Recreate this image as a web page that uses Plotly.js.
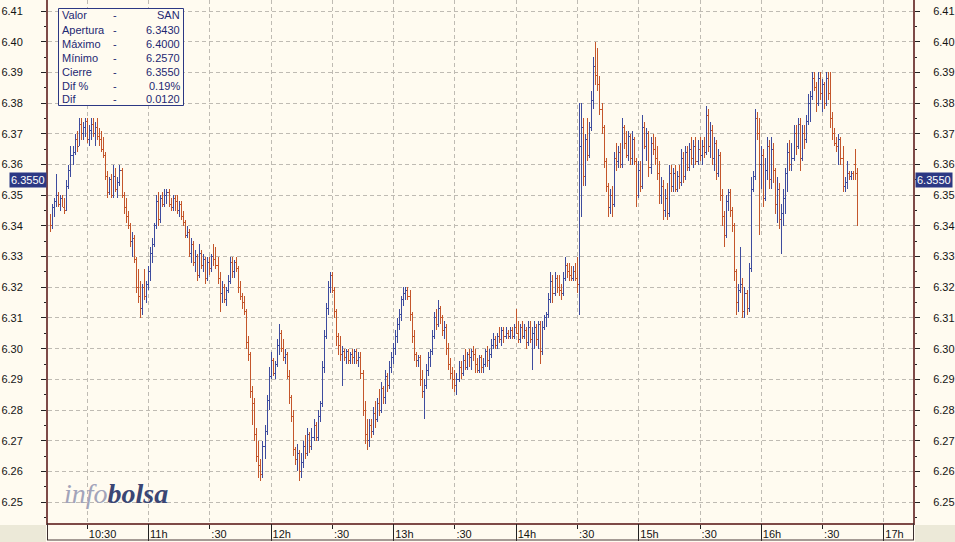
<!DOCTYPE html>
<html><head><meta charset="utf-8">
<script src="https://cdn.plot.ly/plotly-3.0.1.min.js"></script>
<style>html,body{margin:0;padding:0;background:#FFFBF0;overflow:hidden}#chart{width:955px;height:542px}
.ohlc path{shape-rendering:crispEdges}</style>
</head><body><div id="chart"></div>
<script>
// ---------- DATA ----------
const symbol = 'SAN';
const firstBarMinute = 612; // 10:12, one bar per minute
const open = [
6.343,6.340,6.346,6.348,6.350,6.347,6.349,6.346,6.345,6.353,
6.358,6.363,6.364,6.368,6.366,6.373,6.370,6.372,6.374,6.368,
6.371,6.373,6.370,6.372,6.369,6.368,6.366,6.363,6.356,6.351,
6.355,6.350,6.356,6.352,6.354,6.358,6.350,6.346,6.343,6.340,
6.335,6.336,6.329,6.320,6.317,6.313,6.320,6.317,6.321,6.325,
6.331,6.334,6.340,6.348,6.342,6.349,6.347,6.350,6.351,6.347,
6.346,6.349,6.348,6.345,6.347,6.343,6.341,6.337,6.338,6.331,
6.334,6.328,6.330,6.324,6.331,6.327,6.329,6.323,6.328,6.326,
6.330,6.329,6.327,6.323,6.318,6.320,6.316,6.319,6.322,6.328,
6.325,6.328,6.326,6.320,6.317,6.315,6.312,6.302,6.298,6.286,
6.282,6.272,6.265,6.262,6.259,6.268,6.273,6.283,6.291,6.296,
6.292,6.295,6.301,6.305,6.300,6.297,6.298,6.291,6.284,6.278,
6.267,6.264,6.266,6.260,6.263,6.268,6.266,6.272,6.268,6.271,
6.275,6.271,6.278,6.282,6.294,6.304,6.313,6.320,6.324,6.319,
6.312,6.304,6.301,6.298,6.299,6.297,6.299,6.296,6.298,6.297,
6.299,6.296,6.297,6.292,6.280,6.272,6.270,6.275,6.273,6.279,
6.277,6.282,6.280,6.287,6.284,6.291,6.288,6.294,6.297,6.300,
6.304,6.308,6.311,6.316,6.318,6.319,6.317,6.311,6.304,6.298,
6.296,6.297,6.290,6.286,6.288,6.293,6.297,6.299,6.304,6.310,
6.308,6.313,6.310,6.306,6.307,6.300,6.295,6.292,6.290,6.288,
6.290,6.294,6.292,6.296,6.294,6.298,6.297,6.299,6.298,6.295,
6.293,6.297,6.294,6.295,6.299,6.296,6.298,6.301,6.303,6.301,
6.304,6.303,6.306,6.304,6.305,6.304,6.306,6.304,6.307,6.305,
6.303,6.307,6.304,6.306,6.302,6.307,6.303,6.305,6.307,6.303,
6.308,6.299,6.307,6.310,6.311,6.316,6.322,6.318,6.323,6.320,
6.319,6.318,6.323,6.327,6.325,6.324,6.323,6.325,6.323,6.321,
6.366,6.372,6.356,6.368,6.363,6.372,6.381,6.392,6.389,6.386,
6.378,6.372,6.361,6.353,6.346,6.350,6.347,6.362,6.361,6.364,
6.360,6.372,6.367,6.363,6.369,6.362,6.368,6.361,6.350,6.358,
6.353,6.372,6.366,6.370,6.359,6.367,6.365,6.362,6.357,6.350,
6.353,6.345,6.349,6.344,6.357,6.353,6.357,6.352,6.356,6.354,
6.362,6.356,6.364,6.359,6.365,6.362,6.366,6.361,6.365,6.363,
6.366,6.364,6.376,6.366,6.371,6.362,6.367,6.357,6.363,6.350,
6.343,6.337,6.348,6.351,6.345,6.340,6.325,6.315,6.319,6.321,
6.312,6.318,6.313,6.326,6.352,6.356,6.375,6.370,6.360,6.363,
6.349,6.358,6.366,6.355,6.365,6.358,6.347,6.352,6.338,6.344,
6.349,6.357,6.364,6.360,6.362,6.370,6.366,6.373,6.362,6.370,
6.368,6.374,6.380,6.382,6.388,6.385,6.380,6.388,6.383,6.386,
6.380,6.388,6.383,6.375,6.370,6.367,6.366,6.368,6.362,6.353,
6.354,6.357,6.356,6.357,6.360,6.357];
const high = [
6.344,6.347,6.349,6.357,6.351,6.350,6.350,6.349,6.355,6.360,
6.366,6.366,6.370,6.371,6.375,6.375,6.374,6.375,6.375,6.373,
6.375,6.375,6.374,6.375,6.372,6.371,6.369,6.364,6.358,6.356,
6.357,6.360,6.359,6.356,6.360,6.359,6.351,6.349,6.345,6.341,
6.338,6.337,6.330,6.326,6.322,6.321,6.326,6.322,6.327,6.333,
6.336,6.341,6.350,6.351,6.350,6.351,6.352,6.352,6.352,6.349,
6.350,6.350,6.350,6.348,6.348,6.345,6.342,6.340,6.339,6.336,
6.335,6.332,6.331,6.334,6.332,6.331,6.330,6.330,6.330,6.331,
6.334,6.333,6.330,6.325,6.322,6.321,6.320,6.324,6.330,6.330,
6.329,6.330,6.327,6.322,6.318,6.317,6.313,6.304,6.299,6.288,
6.284,6.274,6.270,6.264,6.270,6.275,6.285,6.294,6.299,6.297,
6.296,6.303,6.308,6.306,6.303,6.300,6.299,6.293,6.285,6.280,
6.268,6.269,6.267,6.266,6.270,6.272,6.274,6.273,6.274,6.277,
6.276,6.280,6.283,6.296,6.306,6.315,6.322,6.325,6.325,6.320,
6.313,6.305,6.304,6.301,6.300,6.300,6.300,6.299,6.300,6.300,
6.300,6.299,6.299,6.293,6.283,6.277,6.277,6.277,6.281,6.283,
6.284,6.287,6.289,6.288,6.293,6.292,6.296,6.299,6.302,6.306,
6.310,6.313,6.317,6.320,6.320,6.320,6.319,6.312,6.306,6.299,
6.298,6.298,6.293,6.290,6.295,6.299,6.300,6.306,6.312,6.313,
6.316,6.314,6.311,6.309,6.308,6.302,6.297,6.294,6.293,6.292,
6.296,6.296,6.298,6.300,6.299,6.300,6.300,6.301,6.300,6.297,
6.298,6.298,6.297,6.300,6.301,6.300,6.303,6.305,6.304,6.305,
6.307,6.307,6.307,6.307,6.306,6.307,6.307,6.308,6.313,6.309,
6.308,6.309,6.308,6.307,6.309,6.309,6.307,6.309,6.308,6.309,
6.309,6.309,6.311,6.312,6.318,6.325,6.324,6.325,6.324,6.324,
6.321,6.325,6.330,6.328,6.328,6.327,6.327,6.328,6.330,6.380,
6.380,6.375,6.370,6.375,6.374,6.384,6.395,6.400,6.398,6.389,
6.380,6.373,6.362,6.354,6.352,6.353,6.364,6.367,6.366,6.367,
6.375,6.373,6.371,6.371,6.370,6.371,6.369,6.362,6.361,6.361,
6.376,6.374,6.372,6.371,6.369,6.370,6.369,6.366,6.361,6.356,
6.355,6.352,6.354,6.360,6.360,6.359,6.360,6.358,6.360,6.365,
6.364,6.366,6.366,6.367,6.369,6.368,6.369,6.368,6.369,6.368,
6.369,6.379,6.378,6.374,6.373,6.369,6.368,6.365,6.364,6.352,
6.345,6.350,6.352,6.352,6.346,6.341,6.326,6.321,6.333,6.323,
6.320,6.319,6.328,6.356,6.358,6.378,6.377,6.375,6.366,6.365,
6.362,6.369,6.368,6.369,6.367,6.359,6.356,6.354,6.347,6.352,
6.359,6.367,6.368,6.367,6.373,6.373,6.375,6.375,6.373,6.373,
6.376,6.383,6.384,6.390,6.390,6.387,6.390,6.390,6.388,6.387,
6.390,6.390,6.390,6.377,6.372,6.369,6.370,6.369,6.366,6.356,
6.361,6.358,6.358,6.358,6.365,6.359];
const low = [
6.338,6.339,6.343,6.346,6.346,6.345,6.346,6.344,6.345,6.352,
6.356,6.360,6.363,6.364,6.366,6.368,6.368,6.369,6.367,6.366,
6.368,6.369,6.366,6.368,6.366,6.364,6.362,6.355,6.349,6.350,
6.349,6.349,6.351,6.349,6.353,6.349,6.344,6.341,6.339,6.333,
6.330,6.328,6.318,6.315,6.310,6.311,6.316,6.315,6.319,6.322,
6.328,6.333,6.339,6.340,6.341,6.346,6.346,6.347,6.346,6.345,
6.345,6.345,6.344,6.343,6.342,6.340,6.336,6.336,6.330,6.328,
6.327,6.325,6.322,6.323,6.326,6.325,6.321,6.322,6.324,6.325,
6.327,6.326,6.321,6.312,6.315,6.315,6.314,6.318,6.321,6.323,
6.323,6.325,6.318,6.316,6.313,6.311,6.300,6.296,6.284,6.275,
6.270,6.263,6.258,6.257,6.258,6.264,6.272,6.280,6.290,6.291,
6.290,6.294,6.298,6.299,6.296,6.295,6.290,6.282,6.276,6.265,
6.262,6.260,6.257,6.258,6.261,6.264,6.265,6.266,6.267,6.270,
6.270,6.270,6.276,6.281,6.292,6.303,6.311,6.318,6.318,6.310,
6.301,6.298,6.296,6.288,6.296,6.295,6.295,6.295,6.295,6.295,
6.295,6.294,6.290,6.278,6.269,6.267,6.268,6.271,6.272,6.274,
6.276,6.278,6.279,6.282,6.282,6.286,6.287,6.292,6.295,6.298,
6.302,6.306,6.309,6.314,6.316,6.316,6.309,6.302,6.296,6.294,
6.294,6.288,6.284,6.277,6.287,6.291,6.294,6.298,6.303,6.306,
6.307,6.308,6.304,6.303,6.298,6.293,6.290,6.287,6.286,6.285,
6.289,6.290,6.291,6.293,6.293,6.294,6.293,6.296,6.292,6.292,
6.292,6.292,6.292,6.294,6.294,6.293,6.297,6.300,6.300,6.300,
6.302,6.301,6.302,6.303,6.303,6.303,6.303,6.303,6.305,6.302,
6.302,6.303,6.303,6.300,6.301,6.302,6.293,6.300,6.301,6.300,
6.295,6.298,6.306,6.307,6.310,6.315,6.315,6.317,6.318,6.317,
6.316,6.317,6.322,6.323,6.322,6.322,6.322,6.322,6.318,6.311,
6.343,6.353,6.353,6.361,6.362,6.371,6.378,6.386,6.384,6.376,
6.370,6.359,6.351,6.343,6.344,6.343,6.346,6.358,6.359,6.359,
6.359,6.365,6.362,6.361,6.360,6.360,6.360,6.346,6.349,6.351,
6.352,6.365,6.361,6.356,6.357,6.363,6.360,6.355,6.347,6.347,
6.342,6.343,6.342,6.343,6.351,6.351,6.351,6.351,6.352,6.353,
6.354,6.355,6.358,6.358,6.360,6.359,6.360,6.360,6.361,6.360,
6.362,6.363,6.364,6.362,6.360,6.358,6.355,6.356,6.348,6.340,
6.333,6.336,6.345,6.343,6.338,6.322,6.311,6.312,6.318,6.310,
6.310,6.311,6.312,6.325,6.351,6.355,6.368,6.337,6.352,6.346,
6.348,6.355,6.352,6.352,6.354,6.344,6.341,6.339,6.331,6.340,
6.344,6.351,6.358,6.358,6.361,6.363,6.365,6.358,6.361,6.365,
6.367,6.373,6.374,6.381,6.384,6.377,6.379,6.381,6.377,6.378,
6.379,6.381,6.372,6.368,6.366,6.364,6.360,6.360,6.351,6.351,
6.352,6.355,6.355,6.355,6.355,6.340];
const close = [
6.340,6.346,6.348,6.350,6.347,6.349,6.346,6.345,6.353,6.358,
6.363,6.364,6.368,6.366,6.373,6.370,6.372,6.374,6.368,6.371,
6.373,6.370,6.372,6.369,6.368,6.365,6.363,6.356,6.351,6.355,
6.350,6.356,6.352,6.354,6.358,6.350,6.346,6.343,6.340,6.335,
6.336,6.329,6.320,6.317,6.313,6.320,6.317,6.321,6.325,6.331,
6.334,6.340,6.348,6.342,6.349,6.347,6.350,6.351,6.347,6.346,
6.349,6.348,6.345,6.347,6.343,6.341,6.337,6.338,6.331,6.334,
6.328,6.330,6.324,6.331,6.327,6.329,6.323,6.328,6.326,6.330,
6.329,6.327,6.323,6.318,6.320,6.316,6.319,6.322,6.328,6.325,
6.328,6.326,6.320,6.317,6.315,6.312,6.302,6.298,6.286,6.282,
6.272,6.265,6.262,6.259,6.268,6.273,6.283,6.291,6.296,6.292,
6.295,6.301,6.305,6.300,6.297,6.298,6.291,6.284,6.278,6.267,
6.264,6.266,6.260,6.263,6.268,6.266,6.272,6.268,6.271,6.275,
6.271,6.278,6.282,6.294,6.304,6.313,6.320,6.324,6.319,6.312,
6.304,6.301,6.298,6.299,6.297,6.299,6.296,6.298,6.297,6.299,
6.296,6.297,6.292,6.280,6.272,6.270,6.275,6.273,6.279,6.277,
6.282,6.280,6.287,6.284,6.291,6.288,6.294,6.297,6.300,6.304,
6.308,6.311,6.316,6.318,6.319,6.317,6.311,6.304,6.298,6.296,
6.297,6.290,6.286,6.288,6.293,6.297,6.299,6.304,6.310,6.308,
6.313,6.310,6.306,6.307,6.300,6.295,6.292,6.290,6.288,6.290,
6.294,6.292,6.296,6.294,6.298,6.297,6.299,6.298,6.295,6.293,
6.297,6.294,6.295,6.299,6.296,6.298,6.301,6.303,6.301,6.304,
6.303,6.306,6.304,6.305,6.304,6.306,6.304,6.307,6.305,6.303,
6.307,6.304,6.306,6.302,6.307,6.303,6.305,6.307,6.303,6.308,
6.299,6.307,6.310,6.311,6.316,6.322,6.318,6.323,6.320,6.319,
6.318,6.323,6.327,6.325,6.324,6.323,6.325,6.323,6.321,6.366,
6.372,6.356,6.368,6.363,6.372,6.381,6.392,6.389,6.386,6.378,
6.372,6.361,6.353,6.346,6.350,6.347,6.362,6.361,6.364,6.360,
6.372,6.367,6.363,6.369,6.362,6.368,6.361,6.350,6.358,6.353,
6.372,6.366,6.370,6.359,6.367,6.365,6.362,6.357,6.350,6.353,
6.345,6.349,6.344,6.357,6.353,6.357,6.352,6.356,6.354,6.362,
6.356,6.364,6.359,6.365,6.362,6.366,6.361,6.365,6.363,6.366,
6.364,6.376,6.366,6.371,6.362,6.367,6.357,6.363,6.350,6.343,
6.337,6.348,6.351,6.345,6.340,6.325,6.315,6.319,6.321,6.312,
6.318,6.313,6.326,6.352,6.356,6.375,6.370,6.360,6.363,6.349,
6.358,6.366,6.355,6.365,6.358,6.347,6.352,6.342,6.344,6.349,
6.357,6.364,6.360,6.362,6.370,6.366,6.373,6.362,6.370,6.368,
6.374,6.380,6.382,6.388,6.385,6.380,6.388,6.383,6.386,6.380,
6.388,6.383,6.375,6.370,6.367,6.366,6.368,6.362,6.353,6.354,
6.357,6.356,6.357,6.356,6.357,6.355];
const tickMinutes = [630,660,690,720,750,780,810,840,870,900,930,960,990,1020];
const tickLabels = ['10:30','11h',':30','12h',':30','13h',':30','14h',':30','15h',':30','16h',':30','17h'];
const infoLabels = ['Valor','Apertura','Máximo','Mínimo','Cierre','Dif %','Dif'];

// ---------- LAYOUT CONSTANTS ----------
const L = 48, R = 913, T = 0, B = 523;
const PW = R - L, PH = B - T;
const px = p => (p - L) / PW;
const py = p => (B - p) / PH;
const xRange = [610.76, 1034.26];
const yRange = [6.2432, 6.4136];
const cream = '#FFFBF0', brown = '#7E4A47', navy = '#2C3884', gridC = '#BFBBB3', inkC = '#1E2872';
const tickFont = {family: '"Liberation Sans", Arial, sans-serif', size: 11, color: '#141414'};

const times = open.map((_, i) => firstBarMinute + i);
const apertura = open[0];
const maximo = Math.max(...high);
const minimo = Math.min(...low);
const cierre = close[close.length - 1];
const dif = cierre - apertura;
const difPct = dif / apertura * 100;
const infoValues = [symbol, apertura.toFixed(4), maximo.toFixed(4), minimo.toFixed(4),
  cierre.toFixed(4), difPct.toFixed(2) + '%', dif.toFixed(4)];
const hourTicks = tickMinutes.filter((m, i) => tickLabels[i].endsWith('h'));

const traces = [
  {type: 'ohlc', x: times, open: open, high: high, low: low, close: close,
   increasing: {line: {color: '#3E4C9E', width: 1}},
   decreasing: {line: {color: '#C4562B', width: 1}},
   line: {width: 1}, tickwidth: 0.5, hoverinfo: 'skip'},
  {type: 'scatter', x: [times[0]], y: [close[0]], xaxis: 'x2', yaxis: 'y2',
   mode: 'markers', marker: {opacity: 0}, hoverinfo: 'skip'}
];

const yCommon = {
  range: yRange, tick0: 6.25, dtick: 0.01, tickformat: '.2f',
  ticks: 'outside', ticklen: 5, tickcolor: '#222', tickwidth: 1,
  zeroline: false, showline: true, linecolor: brown, linewidth: 2,
  tickfont: tickFont, fixedrange: true,
  minor: {tick0: 6.245, dtick: 0.01, ticks: 'outside', ticklen: 2, tickcolor: '#222', showgrid: false}
};

const annotations = [];
infoLabels.forEach((lab, k) => {
  const yc = py(15.5 + 14 * k);
  const f = {family: '"Liberation Sans", Arial, sans-serif', size: 11, color: inkC};
  annotations.push({xref: 'paper', yref: 'paper', x: px(60), y: yc, xanchor: 'left', yanchor: 'middle', text: lab, showarrow: false, font: f});
  annotations.push({xref: 'paper', yref: 'paper', x: px(115), y: yc, xanchor: 'center', yanchor: 'middle', text: '-', showarrow: false, font: f});
  annotations.push({xref: 'paper', yref: 'paper', x: px(182), y: yc, xanchor: 'right', yanchor: 'middle', text: infoValues[k], showarrow: false, font: f});
});
annotations.push({xref: 'paper', yref: 'y', x: 0, y: cierre, xanchor: 'right', yanchor: 'middle', xshift: -1,
  text: cierre.toFixed(4), showarrow: false, bgcolor: navy, borderpad: 1,
  font: {family: '"Liberation Sans", Arial, sans-serif', size: 11, color: '#FFFFFF'}});
annotations.push({xref: 'paper', yref: 'y', x: 1, y: cierre, xanchor: 'left', yanchor: 'middle', xshift: 2,
  text: cierre.toFixed(4), showarrow: false, bgcolor: navy, borderpad: 1,
  font: {family: '"Liberation Sans", Arial, sans-serif', size: 11, color: '#FFFFFF'}});
annotations.push({xref: 'paper', yref: 'paper', x: px(62), y: py(493), xanchor: 'left', yanchor: 'middle',
  text: '<i><span style="color:#A2A4BA">info</span><b><span style="color:#3A4674">bolsa</span></b></i>',
  showarrow: false, font: {family: '"Liberation Serif", "DejaVu Serif", serif', size: 28}});

const shapes = [
  {type: 'rect', xref: 'paper', yref: 'paper', x0: px(58.5), x1: px(183.5), y0: py(105.5), y1: py(8.5),
   fillcolor: cream, line: {color: navy, width: 1}, layer: 'above'},
  {type: 'rect', xref: 'paper', yref: 'paper', x0: px(0), x1: px(46), y0: py(542), y1: py(525),
   fillcolor: '#ECE9D8', line: {width: 0}},
  {type: 'rect', xref: 'paper', yref: 'paper', x0: px(915), x1: px(955), y0: py(542), y1: py(525),
   fillcolor: '#ECE9D8', line: {width: 0}},
  {type: 'line', xref: 'paper', yref: 'paper', x0: px(47), x1: px(914), y0: py(540), y1: py(540),
   line: {color: '#4A3A3A', width: 1}},
  {type: 'line', xref: 'paper', yref: 'paper', x0: px(47.5), x1: px(47.5), y0: py(540), y1: py(523),
   line: {color: '#3A2E2E', width: 1}},
  {type: 'line', xref: 'paper', yref: 'paper', x0: px(913.5), x1: px(913.5), y0: py(540), y1: py(523),
   line: {color: '#3A2E2E', width: 1}}
];

const layout = {
  width: 955, height: 542,
  margin: {l: L, r: 955 - R, t: T, b: 542 - B, pad: 0},
  paper_bgcolor: cream, plot_bgcolor: cream, showlegend: false,
  xaxis: {range: xRange, type: 'linear', tickmode: 'array', tickvals: tickMinutes, ticktext: tickLabels,
    ticks: 'outside', ticklen: 4, tickcolor: '#222', tickwidth: 1,
    showgrid: true, gridcolor: gridC, griddash: '4px,3px', gridwidth: 1,
    zeroline: false, showline: true, linecolor: brown, linewidth: 2,
    tickfont: tickFont, ticklabelposition: 'outside right',
    rangeslider: {visible: false}, fixedrange: true},
  xaxis2: {range: xRange, overlaying: 'x', anchor: 'y', side: 'bottom', type: 'linear',
    tickmode: 'array', tickvals: hourTicks, ticks: 'outside', ticklen: 17, tickcolor: '#222', tickwidth: 1,
    showticklabels: false, showgrid: false, zeroline: false, showline: false, fixedrange: true},
  yaxis: Object.assign({}, yCommon, {side: 'left', showgrid: true, gridcolor: gridC, griddash: '4px,3px', gridwidth: 1, ticklabelstandoff: 16}),
  yaxis2: Object.assign({}, yCommon, {side: 'right', overlaying: 'y', anchor: 'x', showgrid: false, ticklabelstandoff: 11}),
  annotations: annotations,
  shapes: shapes
};

Plotly.newPlot('chart', traces, layout, {staticPlot: true, displayModeBar: false});
</script>
</body></html>
